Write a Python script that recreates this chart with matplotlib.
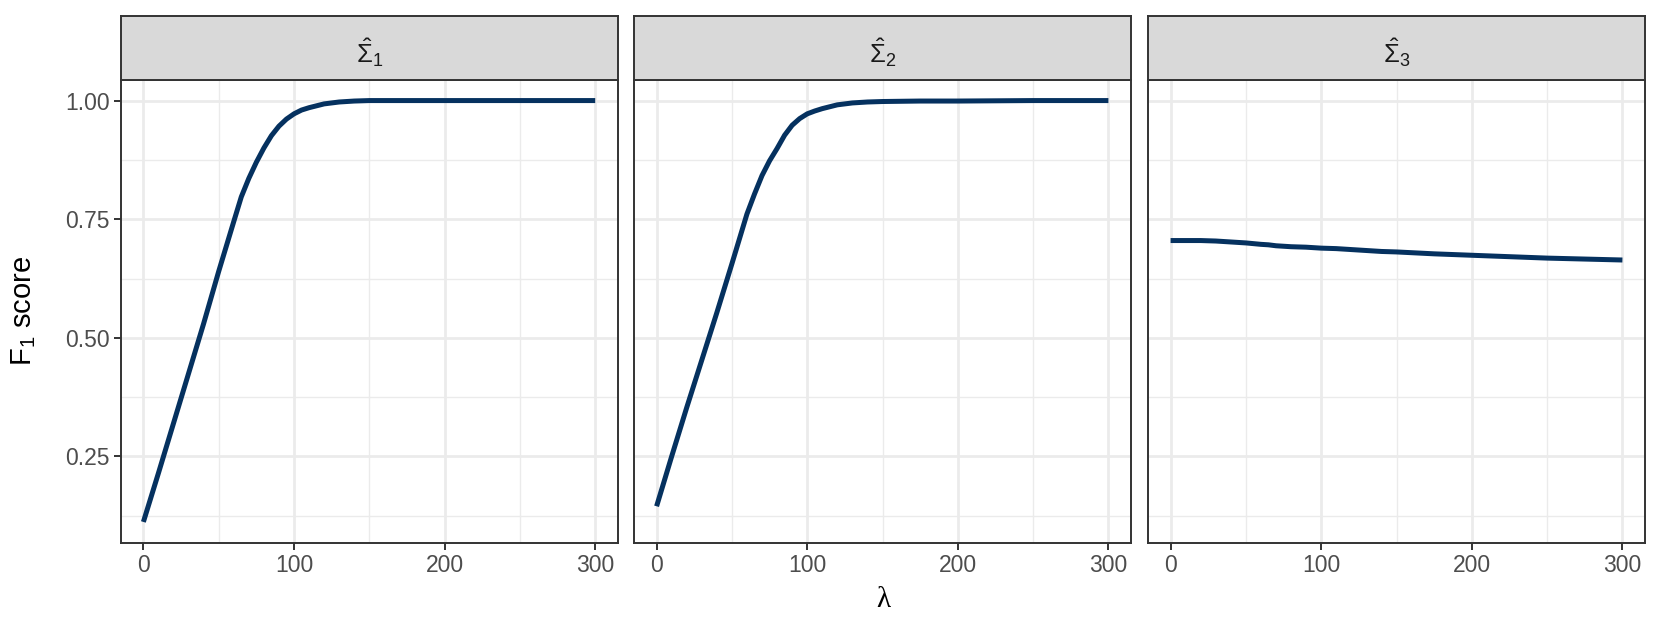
import matplotlib
matplotlib.use("Agg")
import matplotlib.pyplot as plt
from matplotlib.ticker import MultipleLocator

plt.rcParams['font.family'] = ['Liberation Sans', 'DejaVu Sans']
plt.rcParams['mathtext.fontset'] = 'custom'
plt.rcParams['mathtext.rm'] = 'Liberation Sans'
plt.rcParams['mathtext.it'] = 'Liberation Sans:italic'
plt.rcParams['mathtext.bf'] = 'Liberation Sans:bold'

# values
lam = [0, 10, 20, 30, 40, 50, 60, 65, 70, 75, 80, 85, 90, 95, 100, 105, 110, 120,
       130, 140, 150, 175, 200, 250, 300]
f1_sigma1 = [0.112, 0.215, 0.320, 0.425, 0.530, 0.640, 0.745, 0.797, 0.836, 0.870,
             0.900, 0.926, 0.946, 0.961, 0.972, 0.980, 0.985, 0.993, 0.997, 0.999,
             1.000, 1.000, 1.000, 1.000, 1.000]
f1_sigma2 = [0.145, 0.250, 0.353, 0.453, 0.553, 0.656, 0.761, 0.803, 0.842, 0.873,
             0.899, 0.927, 0.948, 0.962, 0.972, 0.978, 0.983, 0.991, 0.995, 0.997,
             0.998, 0.999, 0.999, 1.000, 1.000]
f1_sigma3 = [0.705, 0.705, 0.705, 0.704, 0.702, 0.700, 0.697, 0.696, 0.694, 0.693,
             0.692, 0.6915, 0.691, 0.690, 0.689, 0.6885, 0.688, 0.686, 0.684, 0.682,
             0.681, 0.677, 0.674, 0.668, 0.664]
facet_labels = [r'$\hat{\Sigma}_1$', r'$\hat{\Sigma}_2$', r'$\hat{\Sigma}_3$']
series = [f1_sigma1, f1_sigma2, f1_sigma3]

line_col = '#05315f'
border_col = '#333333'

W, H = 1661, 634
fig = plt.figure(figsize=(W / 100, H / 100), dpi=100)

lefts = [120.8, 634.0, 1148.0]
pw = 497.0
top, bottom, strip_top = 79.5, 543.0, 16.0

# ggplot-like 5% expansion
all_y = f1_sigma1 + f1_sigma2 + f1_sigma3
ymin, ymax = min(all_y), max(all_y)
pad = (ymax - ymin) * 0.05
xpad = (max(lam) - min(lam)) * 0.05

for i, (lx, ys, lab) in enumerate(zip(lefts, series, facet_labels)):
    ax = fig.add_axes([lx / W, 1 - bottom / H, pw / W, (bottom - top) / H])
    ax.plot(lam, ys, color=line_col, lw=3.6, solid_capstyle='butt',
            solid_joinstyle='round', zorder=3)
    ax.set_xlim(min(lam) - xpad, max(lam) + xpad)
    ax.set_ylim(ymin - pad, ymax + pad)
    ax.xaxis.set_major_locator(MultipleLocator(100))
    ax.xaxis.set_minor_locator(MultipleLocator(50))
    ax.yaxis.set_major_locator(MultipleLocator(0.25))
    ax.yaxis.set_minor_locator(MultipleLocator(0.125))
    ax.grid(which='major', color='#ebebeb', lw=2.0)
    ax.grid(which='minor', color='#ebebeb', lw=1.0)
    ax.set_axisbelow(True)
    for s in ax.spines.values():
        s.set_color(border_col)
        s.set_linewidth(1.4)
    ax.tick_params(which='major', length=5, width=1.4, color=border_col,
                   labelsize=16.5, labelcolor='#4d4d4d', pad=3)
    ax.tick_params(which='minor', length=0)
    ax.set_xticks([0, 100, 200, 300])
    ax.set_xticklabels(['0', '100', '200', '300'])
    if i == 0:
        ax.set_yticks([0.25, 0.5, 0.75, 1.0])
        ax.set_yticklabels(['0.25', '0.50', '0.75', '1.00'])
    else:
        ax.tick_params(axis='y', which='both', left=False, labelleft=False)

    sax = fig.add_axes([lx / W, 1 - top / H, pw / W, (top - strip_top) / H])
    sax.set_facecolor('#d9d9d9')
    sax.set_xticks([])
    sax.set_yticks([])
    for s in sax.spines.values():
        s.set_color(border_col)
        s.set_linewidth(1.4)
    sax.text(0.5, 0.42, lab, ha='center', va='center', fontsize=18.5,
             color='#1a1a1a', transform=sax.transAxes)

fig.text((lefts[0] + lefts[2] + pw) / 2 / W, 1 - 600 / H, 'λ', ha='center',
         va='center', fontsize=21, family=['Liberation Serif', 'DejaVu Serif'])
fig.text(24 / W, 1 - (top + bottom) / 2 / H, r'F$_1$ score', rotation=90,
         ha='center', va='center', fontsize=21)

fig.savefig('out.png', dpi=100)
